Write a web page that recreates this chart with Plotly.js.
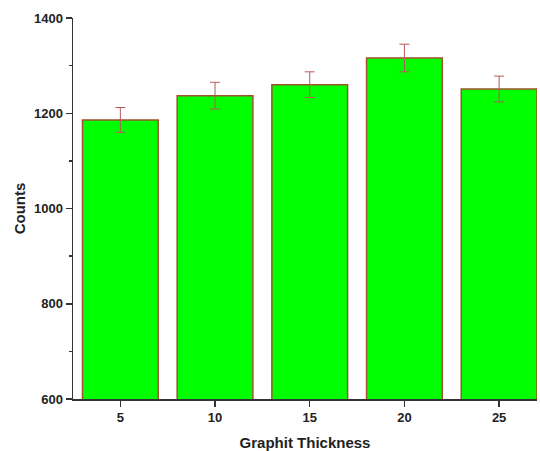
<!DOCTYPE html>
<html>
<head>
<meta charset="utf-8">
<script src="https://cdn.plot.ly/plotly-3.0.1.min.js"></script>
<style>html,body{margin:0;padding:0;background:#fff;}#chart{width:540px;height:451px;}</style>
</head>
<body>
<div id="chart"></div>
<script>
const thickness = [5, 10, 15, 20, 25];
const counts = [1186, 1237, 1260, 1316, 1251];
const errors = [26, 28, 27, 29, 27];
const tickLabels = ['5', '10', '15', '20', '25'];

const font = {family: 'Arial, "Liberation Sans", sans-serif', size: 13, color: '#222', weight: 'bold'};

const trace = {
  type: 'bar',
  x: thickness,
  y: counts,
  width: 4,
  marker: {color: '#00ff00', line: {color: '#a0522d', width: 1.5}},
  error_y: {type: 'data', array: errors, visible: true, color: '#b8585a', thickness: 1, width: 5},
  hoverinfo: 'none'
};

const layout = {
  width: 540, height: 451,
  margin: {l: 73, r: 3, t: 18, b: 52},
  paper_bgcolor: '#fff', plot_bgcolor: '#fff',
  showlegend: false,
  font: font,
  xaxis: {
    range: [2.5, 27.0],
    tickvals: thickness,
    ticktext: tickLabels,
    showgrid: false, zeroline: false,
    showline: true, linecolor: '#333', linewidth: 1.5,
    ticks: 'outside', ticklen: 6, tickwidth: 1.5, tickcolor: '#333',
    tickfont: font,
    title: {text: 'Graphit Thickness', font: {family: font.family, size: 15, color: '#222', weight: 'bold'}, standoff: 17}
  },
  yaxis: {
    range: [600, 1400],
    tickvals: [600, 800, 1000, 1200, 1400],
    showgrid: false, zeroline: false,
    showline: true, linecolor: '#333', linewidth: 1.5,
    ticks: 'outside', ticklen: 6, tickwidth: 1.5, tickcolor: '#333',
    tickfont: font,
    minor: {tickvals: [700, 900, 1100, 1300], ticks: 'outside', ticklen: 3, tickwidth: 1.5, tickcolor: '#333', showgrid: false},
    title: {text: 'Counts', font: {family: font.family, size: 15, color: '#222', weight: 'bold'}, standoff: 4}
  }
};

Plotly.newPlot('chart', [trace], layout, {staticPlot: true, displayModeBar: false});
</script>
</body>
</html>
